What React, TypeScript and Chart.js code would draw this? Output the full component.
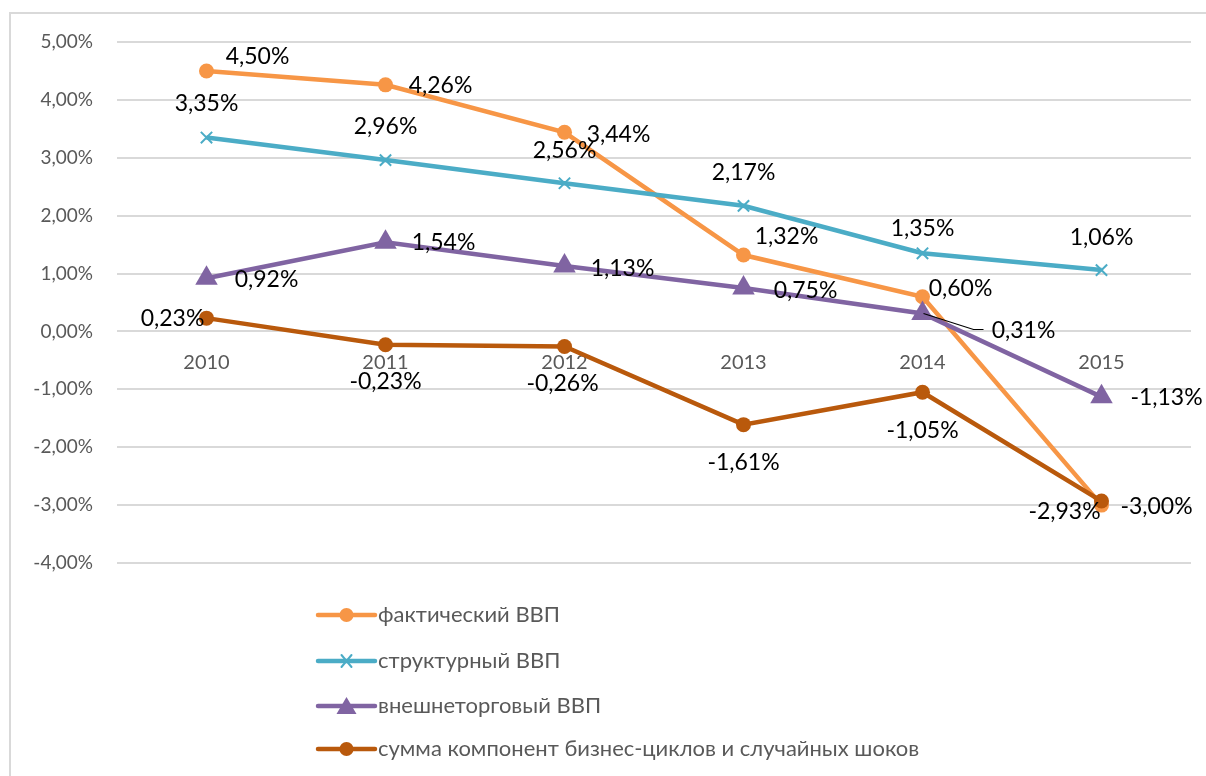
import React, { useEffect, useRef } from "react";
import { Chart, registerables } from "chart.js";

Chart.register(...registerables);

const YEARS = ["2010", "2011", "2012", "2013", "2014", "2015"];
const ACTUAL_GDP = [4.5, 4.26, 3.44, 1.32, 0.6, -3.0];
const STRUCTURAL_GDP = [3.35, 2.96, 2.56, 2.17, 1.35, 1.06];
const TRADE_GDP = [0.92, 1.54, 1.13, 0.75, 0.31, -1.13];
const CYCLE_SHOCKS = [0.23, -0.23, -0.26, -1.61, -1.05, -2.93];
const SERIES_NAMES = [
  "фактический ВВП",
  "структурный ВВП",
  "внешнеторговый ВВП",
  "сумма компонент бизнес-циклов и случайных шоков",
];
const COLORS = ["#F79646", "#4BACC6", "#8064A2", "#B9590C"];
const MARKERS = ["circle", "crossRot", "triangle", "circle"];
const MARKER_RADII = [7.5, 8, 13, 7.5];

// label offsets (dx, dy) relative to each point, per series
const LABEL_OFFSETS: number[][][] = [
  [[51, -14], [55, 1], [54, 2], [43, -18], [38, -8], [55, 1]],
  [[0, -34], [0, -34], [0, -33], [0, -33], [0, -25], [0, -33]],
  [[60, 1], [58, 0], [58, 3], [62, 3], [101, 17], [65, 1]],
  [[-34, 0], [0, 37], [-2, 37], [0, 38], [0, 38], [-37, 11]],
];

const FONT = "Lato, 'Open Sans', sans-serif";
const fmt = (v: number) => v.toFixed(2).replace(".", ",") + "%";

const labelPlugin = {
  id: "dataLabels",
  afterDatasetsDraw(chart: any) {
    const ctx = chart.ctx;
    ctx.save();
    ctx.font = `23px ${FONT}`;
    ctx.fillStyle = "#000000";
    ctx.textAlign = "center";
    ctx.textBaseline = "middle";
    chart.data.datasets.forEach((ds: any, i: number) => {
      const meta = chart.getDatasetMeta(i);
      meta.data.forEach((pt: any, j: number) => {
        const [dx, dy] = LABEL_OFFSETS[i][j];
        const x = pt.x + dx;
        const y = pt.y + dy;
        if (i === 2 && j === 4) {
          ctx.save();
          ctx.strokeStyle = "#000";
          ctx.lineWidth = 1.2;
          ctx.beginPath();
          ctx.moveTo(pt.x + 1, pt.y);
          ctx.lineTo(pt.x + 51, pt.y + 16);
          ctx.lineTo(pt.x + 61, pt.y + 16);
          ctx.stroke();
          ctx.restore();
        }
        ctx.fillText(fmt(ds.data[j]), x, y);
      });
    });
    ctx.restore();
  },
};

const legendPlugin = {
  id: "vertLegend",
  afterDraw(chart: any) {
    const ctx = chart.ctx;
    const x0 = 307;
    const x1 = 364;
    const rows = [601, 647, 692, 735];
    ctx.save();
    chart.data.datasets.forEach((ds: any, i: number) => {
      const y = rows[i];
      ctx.strokeStyle = COLORS[i];
      ctx.lineWidth = 4.5;
      ctx.lineCap = "round";
      ctx.beginPath();
      ctx.moveTo(x0, y);
      ctx.lineTo(x1, y);
      ctx.stroke();
      const cx = (x0 + x1) / 2;
      ctx.fillStyle = COLORS[i];
      ctx.strokeStyle = COLORS[i];
      if (MARKERS[i] === "circle") {
        ctx.beginPath();
        ctx.arc(cx, y, 7, 0, Math.PI * 2);
        ctx.fill();
      } else if (MARKERS[i] === "crossRot") {
        ctx.lineWidth = 2;
        ctx.beginPath();
        ctx.moveTo(cx - 5, y - 6);
        ctx.lineTo(cx + 5, y + 6);
        ctx.moveTo(cx + 5, y - 6);
        ctx.lineTo(cx - 5, y + 6);
        ctx.stroke();
      } else {
        ctx.beginPath();
        ctx.moveTo(cx, y - 9);
        ctx.lineTo(cx + 10, y + 8);
        ctx.lineTo(cx - 10, y + 8);
        ctx.closePath();
        ctx.fill();
      }
      ctx.fillStyle = "#595959";
      ctx.font = `22px ${FONT}`;
      ctx.textAlign = "left";
      ctx.textBaseline = "middle";
      ctx.fillText(SERIES_NAMES[i], x1 + 3, y);
    });
    ctx.restore();
  },
};

export default function App() {
  const ref = useRef<HTMLCanvasElement | null>(null);
  useEffect(() => {
    if (!ref.current) return;
    const series = [ACTUAL_GDP, STRUCTURAL_GDP, TRADE_GDP, CYCLE_SHOCKS];
    const chart = new Chart(ref.current, {
      type: "line",
      data: {
        labels: YEARS,
        datasets: series.map((d, i) => ({
          label: SERIES_NAMES[i],
          data: d,
          borderColor: COLORS[i],
          backgroundColor: COLORS[i],
          borderWidth: 4.5,
          pointStyle: MARKERS[i] as any,
          pointRadius: MARKER_RADII[i],
          pointBorderWidth: MARKERS[i] === "crossRot" ? 2 : 0,
          pointBorderColor: COLORS[i],
          pointBackgroundColor: COLORS[i],
          tension: 0,
          fill: false,
          order: 4 - i,
        })),
      },
      options: {
        responsive: false,
        animation: false,
        layout: { padding: { left: 0, top: 28, right: 15, bottom: 213 } },
        plugins: {
          legend: { display: false },
          tooltip: { enabled: false },
        },
        scales: {
          x: {
            type: "category",
            offset: true,
            position: { y: 0 } as any,
            grid: { display: false, drawTicks: false },
            border: { display: false },
            ticks: {
              color: "#595959",
              font: { family: FONT, size: 20 },
              padding: 19,
              maxRotation: 0,
            },
          },
          y: {
            min: -4,
            max: 5,
            grid: { color: "#d9d9d9", lineWidth: 2, drawTicks: false },
            border: { display: false },
            ticks: {
              stepSize: 1,
              color: "#595959",
              font: { family: FONT, size: 19 },
              padding: 24,
              callback: (v: any) => fmt(Number(v)),
            },
            afterFit: (s: any) => {
              s.width = 106;
              s.paddingTop = 0;
              s.paddingBottom = 0;
            },
          },
        },
      },
      plugins: [labelPlugin, legendPlugin],
    });
    return () => chart.destroy();
  }, []);
  return (
    <div
      style={{
        position: "absolute",
        left: 9,
        top: 12,
        borderTop: "2px solid #d9d9d9",
        borderLeft: "2px solid #d9d9d9",
        width: 1195,
        height: 762,
        background: "#fff",
      }}
    >
      <canvas ref={ref} width={1195} height={762} style={{ display: "block" }} />
    </div>
  );
}
